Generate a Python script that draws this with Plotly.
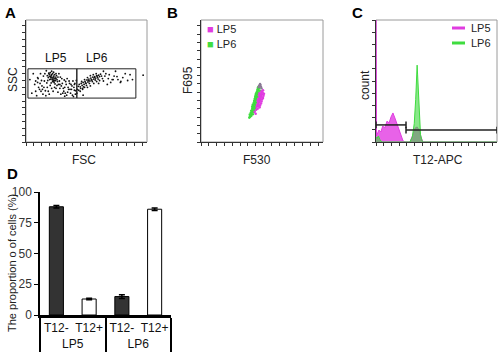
import plotly.graph_objects as go

FONT = "Liberation Sans, Arial, sans-serif"
MAG = "#e03ce0"
GRN = "#3fdc3f"

# ---------------- Panel A : FSC / SSC dot plot ----------------
a_fsc = [44, 46, 48, 50, 51, 52, 53, 54, 55, 56, 57, 58, 59, 60, 61, 62, 63, 49, 47, 55, 58, 64, 66, 50, 53, 57, 45, 62, 65, 60, 52,
         51, 54, 56, 48, 59, 61, 53, 57,
         12, 18, 22, 25, 28, 30, 33, 35, 38, 40, 42, 70, 72, 75, 78, 80, 84, 88, 92, 95, 98, 100, 36, 26, 68, 74, 82, 15, 20, 90,
         66, 44, 32, 86, 96, 62, 56, 48, 24, 34, 76, 94, 102, 8, 70, 80,
         20, 24, 29, 31, 37, 39, 43, 46, 41, 67, 69, 71, 73, 77, 79, 83, 85, 87, 89, 91, 93, 97, 99, 101, 103, 81, 64, 59, 53, 50,
         108, 110, 112, 114, 116, 118, 120, 122, 124, 126, 128, 130, 132, 134, 136, 138, 140, 142, 144, 146, 148, 150, 152, 154,
         156, 119, 125, 131, 137, 143, 149, 127, 133, 139, 121, 115, 145, 123, 129, 135, 141, 117, 147,
         160, 165, 170, 175, 182, 190, 200, 210, 105, 112, 118, 100, 104, 160, 168, 150, 185, 242, 196, 215, 178,
         106, 109, 113, 117, 121, 158, 163, 172, 180, 188, 195, 205, 220, 140, 146, 152, 127, 133]
a_ssc = [136, 132, 139, 134, 129, 137, 133, 131, 140, 127, 135, 130, 138, 133, 126, 131, 136, 128, 141, 124, 122, 128, 133, 142, 145, 143, 126, 140, 124, 119, 121,
         133, 128, 132, 135, 126, 130, 138, 125,
         100, 118, 95, 130, 108, 140, 115, 98, 125, 105, 146, 110, 98, 120, 104, 112, 96, 108, 100, 115, 93, 106, 135, 112, 140, 130, 124, 140, 104, 120,
         102, 112, 126, 102, 96, 110, 104, 98, 122, 108, 100, 108, 98, 128, 118, 94,
         125, 132, 120, 104, 112, 140, 121, 104, 95, 118, 125, 133, 115, 110, 127, 118, 130, 112, 125, 108, 118, 125, 112, 120, 105, 100, 116, 112, 110, 116,
         114, 118, 113, 120, 116, 122, 118, 124, 120, 127, 123, 129, 125, 131, 127, 133, 129, 134, 131, 136, 132, 137, 134, 139,
         135, 113, 116, 120, 124, 127, 129, 132, 136, 138, 128, 124, 140, 121, 126, 128, 132, 110, 135,
         125, 140, 130, 122, 135, 128, 132, 126, 100, 104, 96, 118, 126, 145, 118, 120, 145, 137, 124, 138, 128,
         108, 106, 110, 108, 112, 130, 135, 138, 128, 134, 122, 140, 128, 120, 124, 126, 112, 115]
gate_lp5_fsc = [4, 105]
gate_lp6_fsc = [105, 227]
gate_ssc = [90, 150]
gate_names = ["LP5", "LP6"]

# ---------------- Panel B : F530 / F695 ----------------
b_lp6_f530 = [100, 103, 106, 102, 105, 108, 103, 106, 109, 105, 108, 111, 105, 108, 111, 106, 109, 112, 108, 111, 114,
              109, 112, 115, 110, 113, 116, 111, 114, 117, 112, 115, 118, 113, 116, 119, 115, 118, 121, 116, 119, 117,
              101, 103, 99]
b_lp6_f695 = [56, 58, 57, 60, 62, 61, 64, 66, 65, 68, 70, 69, 72, 74, 73, 76, 78, 77, 80, 82, 81,
              84, 86, 85, 88, 90, 89, 92, 94, 93, 96, 98, 97, 100, 102, 101, 104, 106, 105, 108, 110, 112,
              52, 54, 50]
b_lp5_f530 = [113, 116, 114, 117, 120, 115, 118, 121, 117, 120, 123, 118, 121, 124, 119, 122, 125, 120, 123, 126,
              122, 125, 128, 123, 126, 124, 127, 120, 119, 117, 116, 127, 129, 110, 112]
b_lp5_f695 = [66, 68, 72, 74, 71, 76, 78, 75, 80, 82, 79, 84, 86, 83, 88, 90, 87, 92, 94, 91,
              96, 98, 95, 100, 102, 104, 106, 100, 96, 88, 84, 90, 99, 62, 58]
b_mix_f530 = [118, 120, 122, 121, 123, 119, 124]
b_mix_f695 = [112, 114, 117, 119, 113, 116, 110]

# ---------------- Panel C : T12-APC histograms ----------------
c_lp5_apc = [0, 1, 6, 10, 14, 18, 23, 27, 31, 35, 39, 43, 48, 52, 56, 60, 70, 76, 81, 85, 89, 93, 97, 250]
c_lp5_count = [130, 4.9, 9.8, 8.2, 13.1, 11.5, 17.2, 15.6, 20.5, 23.8, 19.7, 14.8, 9.8, 4.1, 0.8, 0, 0, 5.7, 11.5, 12.3, 9.8, 4.1, 0, 0]
c_lp6_apc = [0, 2, 5, 8, 12, 70, 75, 79, 82, 84, 85, 86, 88, 90, 92, 95, 98, 250]
c_lp6_count = [4, 3, 5, 2, 0, 0, 4, 15, 35, 55, 63, 55, 35, 15, 6, 1, 0, 0]
c_gate_neg = [0, 62]
c_gate_neg_count = 14
c_gate_pos = [62, 250]
c_gate_pos_count = 9.8

# ---------------- Panel D : bar chart ----------------
d_group = ["LP5", "LP5", "LP6", "LP6"]
d_marker = ["T12-", "T12+", "T12-", "T12+"]
d_value = [88, 13, 15, 86]
d_err = [1.0, 0.6, 1.5, 1.0]
d_color = ["#333333", "#ffffff", "#333333", "#ffffff"]

fig = go.Figure()

fig.add_trace(go.Scatter(x=a_fsc, y=a_ssc, mode="markers", xaxis="x", yaxis="y",
                         marker=dict(size=1.8, color="#111111"), showlegend=False, hoverinfo="skip"))

fig.add_trace(go.Scatter(x=b_lp6_f530, y=b_lp6_f695, mode="markers", xaxis="x2", yaxis="y2",
                         marker=dict(size=2.6, color=GRN), showlegend=False))
fig.add_trace(go.Scatter(x=b_lp5_f530, y=b_lp5_f695, mode="markers", xaxis="x2", yaxis="y2",
                         marker=dict(size=2.6, color=MAG), showlegend=False))
fig.add_trace(go.Scatter(x=b_mix_f530, y=b_mix_f695, mode="markers", xaxis="x2", yaxis="y2",
                         marker=dict(size=2.4, color="#8a7a95"), showlegend=False))

fig.add_trace(go.Scatter(x=c_lp5_apc, y=c_lp5_count, mode="lines", xaxis="x3", yaxis="y3", fill="tozeroy",
                         line=dict(color=MAG, width=1), fillcolor="rgba(228,70,228,0.85)", showlegend=False))
fig.add_trace(go.Scatter(x=c_lp6_apc, y=c_lp6_count, mode="lines", xaxis="x3", yaxis="y3", fill="tozeroy",
                         line=dict(color=GRN, width=1), fillcolor="rgba(60,215,60,0.6)", showlegend=False))

fig.add_trace(go.Bar(x=[d_group, d_marker], y=d_value, xaxis="x4", yaxis="y4", width=0.43,
                     marker=dict(color=d_color, line=dict(color="#000000", width=1)),
                     error_y=dict(type="data", array=d_err, color="#000000", thickness=1.5, width=3),
                     showlegend=False))

ytop, ybot = 1 - 20 / 353, 1 - 142 / 353
tick_small = dict(ticks="outside", ticklen=3, tickwidth=1, tickcolor="#333", showticklabels=False,
                  showgrid=False, zeroline=False, showline=True, linecolor="#333", linewidth=1, automargin=False)

fig.update_layout(
    width=500, height=353, margin=dict(l=0, r=0, t=0, b=0),
    paper_bgcolor="white", plot_bgcolor="white",
    font=dict(family=FONT, size=12, color="#222"),
    xaxis=dict(domain=[26 / 500, 147 / 500], range=[0, 250], anchor="y", dtick=16, **tick_small),
    yaxis=dict(domain=[ybot, ytop], range=[0, 250], anchor="x", dtick=14, **tick_small),
    xaxis2=dict(domain=[201 / 500, 323 / 500], range=[0, 250], anchor="y2", dtick=16, **tick_small),
    yaxis2=dict(domain=[ybot, ytop], range=[0, 250], anchor="x2", dtick=17, **tick_small),
    xaxis3=dict(domain=[376 / 500, 497 / 500], range=[0, 250], anchor="y3", dtick=16, **tick_small),
    yaxis3=dict(domain=[ybot, ytop], range=[0, 100], anchor="x3", dtick=10, **tick_small),
    xaxis4=dict(domain=[40 / 500, 171 / 500], anchor="y4", type="multicategory", automargin=False,
                showline=True, linecolor="#000", linewidth=2.5, ticks="", showgrid=False, tickangle=0,
                showdividers=True, dividercolor="#000", dividerwidth=1.5,
                tickfont=dict(size=12, color="#111")),
    yaxis4=dict(domain=[1 - 315 / 353, 1 - 192 / 353], range=[0, 100], anchor="x4", automargin=False,
                tickvals=[0, 25, 50, 75, 100], ticks="outside", ticklen=4, tickcolor="#000",
                showline=True, linecolor="#000", linewidth=1.5, showgrid=False, zeroline=False,
                tickfont=dict(size=12, color="#333")),
)

shapes = []
for ax in ["", "2", "3"]:
    shapes.append(dict(type="rect", xref=f"x{ax} domain", yref=f"y{ax} domain", x0=0, x1=1, y0=0, y1=1,
                       line=dict(color="#9a9a9a", width=1), layer="below"))
for g in [gate_lp5_fsc, gate_lp6_fsc]:
    shapes.append(dict(type="rect", xref="x", yref="y", x0=g[0], x1=g[1], y0=gate_ssc[0], y1=gate_ssc[1],
                       line=dict(color="#222", width=1)))
for g, c in [(c_gate_neg, c_gate_neg_count), (c_gate_pos, c_gate_pos_count)]:
    shapes.append(dict(type="line", xref="x3", yref="y3", x0=g[0], x1=g[1], y0=c, y1=c,
                       line=dict(color="#222", width=1.5)))
    for xe in g:
        shapes.append(dict(type="line", xref="x3", yref="y3", x0=xe, x1=xe, y0=c - 2.8, y1=c + 2.8,
                           line=dict(color="#222", width=1.5)))
# legend lines for panel C
for yy, col in [(28, MAG), (43, GRN)]:
    shapes.append(dict(type="line", xref="paper", yref="paper", x0=452 / 500, x1=465 / 500,
                       y0=1 - yy / 353, y1=1 - yy / 353, line=dict(color=col, width=3)))
fig.update_layout(shapes=shapes)

ann = []
def A(text, px, py, size=12, angle=0, xanchor="center", bold=False, color="#222"):
    ann.append(dict(text=f"<b>{text}</b>" if bold else text, x=px / 500, y=1 - py / 353, xref="paper", yref="paper",
                    showarrow=False, xanchor=xanchor, yanchor="middle", textangle=angle,
                    font=dict(family=FONT, size=size, color=color)))

A("A", 10, 12, 15, bold=True, color="#000")
A("B", 172, 12, 15, bold=True, color="#000")
A("C", 357, 12, 15, bold=True, color="#000")
A("D", 12, 173, 15, bold=True, color="#000")
A("SSC", 13, 80, 12, angle=-90)
A("FSC", 84, 160, 12)
A("F695", 188, 80, 12, angle=-90)
A("F530", 257, 160, 12)
A("count", 365, 85, 12, angle=-90)
A("T12-APC", 438, 160, 12)
A("The proportion o of cells (%)", 12, 263, 11, angle=-90)
A(f"<span style='color:{MAG}'>■</span> LP5", 205, 29, 11, xanchor="left")
A(f"<span style='color:{GRN}'>■</span> LP6", 205, 44, 11, xanchor="left")
A("LP5", 469, 28, 11, xanchor="left")
A("LP6", 469, 43, 11, xanchor="left")
for name, g in zip(gate_names, [gate_lp5_fsc, gate_lp6_fsc]):
    ann.append(dict(text=name, x=(g[0] + g[1]) / 2 + (8 if name == "LP5" else -20), y=gate_ssc[1] + 3, xref="x", yref="y",
                    showarrow=False, yanchor="bottom", font=dict(family=FONT, size=12, color="#111")))
fig.update_layout(annotations=ann)

fig.write_html("out.html")
